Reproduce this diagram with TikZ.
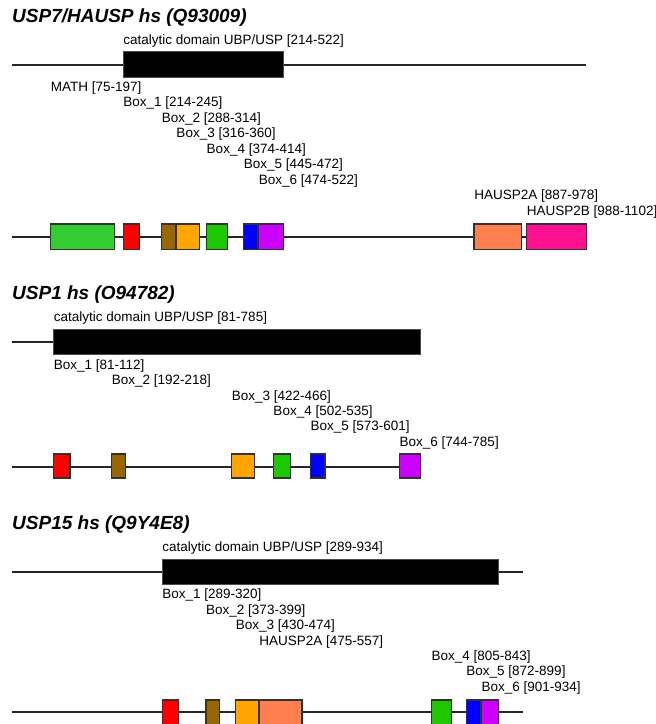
\documentclass[tikz,border=0pt]{standalone}
\usepackage{fontspec}
\setmainfont{Liberation Sans}
\usepackage{tikz}
\usetikzlibrary{positioning}

\definecolor{cmath}{RGB}{51,204,51}
\definecolor{cbox1}{RGB}{255,0,0}
\definecolor{cbox2}{RGB}{153,102,0}
\definecolor{cbox3}{RGB}{255,165,0}
\definecolor{cbox4}{RGB}{30,200,0}
\definecolor{cbox5}{RGB}{0,0,255}
\definecolor{cbox6}{RGB}{204,0,255}
\definecolor{chauspa}{RGB}{255,127,80}
\definecolor{chauspb}{RGB}{255,16,144}
\definecolor{cedge}{RGB}{50,50,50}

\begin{document}
\begin{tikzpicture}[
    x=1bp, y=-1bp,
    chain/.style={line width=1.1bp, black!85},
    dom/.style={draw=cedge, line width=1.2bp},
    cat/.style={fill=black, draw=black!70, line width=1bp},
    lbl/.style={anchor=west, inner sep=0pt, font=\fontsize{13.5bp}{15bp}\selectfont},
    ttl/.style={anchor=west, inner sep=0pt, font=\fontsize{19bp}{21bp}\selectfont\bfseries\itshape}
]
\useasboundingbox (0,0) rectangle (656,724);

% residue -> pixel: x = 11.5 + 0.5215*r
\begin{scope}[x=0.5215bp, xshift=11.5bp]

% ---- USP7 / HAUSP
\node[ttl] (t1) at (1,18) {USP7/HAUSP hs (Q93009)};
\draw[chain] (0,65) -- (1102,65);
\draw[cat] (214,52) rectangle (522,78);
\node[lbl] (p1cat) at (214,41.5) {catalytic domain UBP/USP [214-522]};
\node[lbl] (p1math) at (75,88.5) {MATH [75-197]};
\node[lbl] (p1b1) at (214,103.5) {Box\_1 [214-245]};
\node[lbl] (p1b2) at (288,119) {Box\_2 [288-314]};
\node[lbl] (p1b3) at (316,134.5) {Box\_3 [316-360]};
\node[lbl] (p1b4) at (374,150) {Box\_4 [374-414]};
\node[lbl] (p1b5) at (445,165.5) {Box\_5 [445-472]};
\node[lbl] (p1b6) at (474,181) {Box\_6 [474-522]};
\node[lbl] (p1ha) at (887,196.5) {HAUSP2A [887-978]};
\node[lbl] (p1hb) at (988,212.5) {HAUSP2B [988-1102]};
\draw[chain] (0,237) -- (1102,237);
\draw[dom, fill=cmath] (75,224) rectangle (197,249.5);
\draw[dom, fill=cbox1] (214,224) rectangle (245,249.5);
\draw[dom, fill=cbox2] (288,224) rectangle (314,249.5);
\draw[dom, fill=cbox3] (316,224) rectangle (360,249.5);
\draw[dom, fill=cbox4] (374,224) rectangle (414,249.5);
\draw[dom, fill=cbox5] (445,224) rectangle (472,249.5);
\draw[dom, fill=cbox6] (474,224) rectangle (522,249.5);
\draw[dom, fill=chauspa] (887,224) rectangle (978,249.5);
\draw[dom, fill=chauspb] (988,224) rectangle (1102,249.5);

% ---- USP1
\node[ttl] (t2) at (1,294.5) {USP1 hs (O94782)};
\draw[chain] (0,342) -- (785,342);
\draw[cat] (81,329) rectangle (785,354);
\node[lbl] (p2cat) at (81,318) {catalytic domain UBP/USP [81-785]};
\node[lbl] (p2b1) at (81,366) {Box\_1 [81-112]};
\node[lbl] (p2b2) at (192,381) {Box\_2 [192-218]};
\node[lbl] (p2b3) at (422,397) {Box\_3 [422-466]};
\node[lbl] (p2b4) at (502,412) {Box\_4 [502-535]};
\node[lbl] (p2b5) at (573,427.5) {Box\_5 [573-601]};
\node[lbl] (p2b6) at (744,443) {Box\_6 [744-785]};
\draw[chain] (0,467) -- (785,467);
\draw[dom, fill=cbox1] (81,454) rectangle (112,478);
\draw[dom, fill=cbox2] (192,454) rectangle (218,478);
\draw[dom, fill=cbox3] (422,454) rectangle (466,478);
\draw[dom, fill=cbox4] (502,454) rectangle (535,478);
\draw[dom, fill=cbox5] (573,454) rectangle (601,478);
\draw[dom, fill=cbox6] (744,454) rectangle (785,478);

% ---- USP15
\node[ttl] (t3) at (1,525) {USP15 hs (Q9Y4E8)};
\draw[chain] (0,572) -- (981,572);
\draw[cat] (289,559) rectangle (934,584);
\node[lbl] (p3cat) at (289,548) {catalytic domain UBP/USP [289-934]};
\node[lbl] (p3b1) at (289,595) {Box\_1 [289-320]};
\node[lbl] (p3b2) at (373,611) {Box\_2 [373-399]};
\node[lbl] (p3b3) at (430,626.5) {Box\_3 [430-474]};
\node[lbl] (p3ha) at (475,642) {HAUSP2A [475-557]};
\node[lbl] (p3b4) at (805,657.5) {Box\_4 [805-843]};
\node[lbl] (p3b5) at (872,672.5) {Box\_5 [872-899]};
\node[lbl] (p3b6) at (901,688) {Box\_6 [901-934]};
\draw[chain] (0,712) -- (981,712);
\draw[dom, fill=cbox1] (289,700) rectangle (320,726);
\draw[dom, fill=cbox2] (373,700) rectangle (399,726);
\draw[dom, fill=cbox3] (430,700) rectangle (474,726);
\draw[dom, fill=chauspa] (475,700) rectangle (557,726);
\draw[dom, fill=cbox4] (805,700) rectangle (843,726);
\draw[dom, fill=cbox5] (872,700) rectangle (899,726);
\draw[dom, fill=cbox6] (901,700) rectangle (934,726);

\end{scope}
\end{tikzpicture}
\end{document}
